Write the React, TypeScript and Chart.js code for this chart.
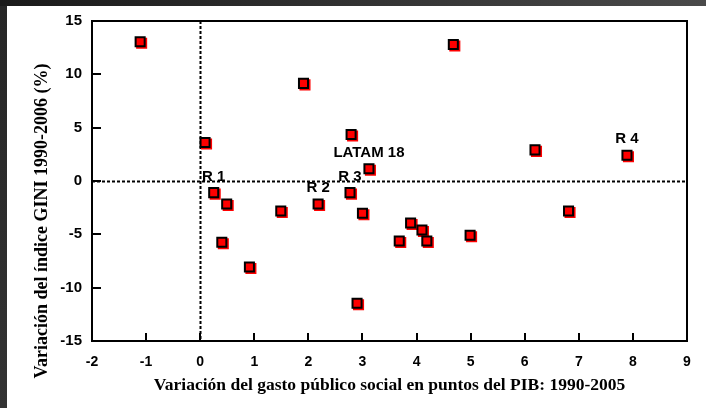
import React, { useEffect, useRef } from "react";
import { Chart, registerables } from "chart.js";

Chart.register(...registerables);

// Variación del gasto público social (puntos del PIB, 1990-2005)
const gastoSocial = [
  -1.11, 4.68, 1.91, 0.09, 2.79, 3.12, 6.19, 7.89, 0.25, 0.49, 1.49, 2.18,
  2.77, 3.0, 0.4, 0.91, 2.9, 3.68, 3.89, 4.1, 4.19, 4.99, 6.81,
];
// Variación del índice GINI 1990-2006 (%)
const giniVar = [
  13.05, 12.79, 9.15, 3.61, 4.36, 1.14, 2.92, 2.42, -1.09, -2.15, -2.81, -2.15,
  -1.09, -3.03, -5.75, -8.07, -11.46, -5.63, -3.94, -4.6, -5.63, -5.09, -2.81,
];
const pointLabels = [
  "", "", "", "", "", "LATAM 18", "", "R 4", "R 1", "", "", "R 2",
  "R 3", "", "", "", "", "", "", "", "", "", "",
];

const xTitle = "Variación del gasto público social en puntos del PIB: 1990-2005";
const yTitle = "Variación del índice GINI 1990-2006 (%)";

const SANS = "'Liberation Sans', Arial, sans-serif";
const SERIF = "'Liberation Serif', 'Times New Roman', serif";

const decorPlugin = {
  id: "decor",
  afterDraw(chart: any) {
    const { ctx, chartArea, scales } = chart;
    const xs = scales.x;
    const ys = scales.y;
    ctx.save();
    ctx.strokeStyle = "#000";
    ctx.lineWidth = 2;
    ctx.setLineDash([]);
    ctx.beginPath();
    xs.ticks.forEach((t: any) => {
      const px = Math.round(xs.getPixelForValue(t.value));
      ctx.moveTo(px, chartArea.bottom);
      ctx.lineTo(px, chartArea.bottom - 8);
    });
    ys.ticks.forEach((t: any) => {
      const py = Math.round(ys.getPixelForValue(t.value));
      ctx.moveTo(chartArea.left, py);
      ctx.lineTo(chartArea.left + 9, py);
    });
    ctx.stroke();
    ctx.restore();
  },
  beforeDatasetsDraw(chart: any) {
    const { ctx, chartArea, scales } = chart;
    const xs = scales.x;
    const ys = scales.y;
    ctx.save();
    ctx.strokeStyle = "#000";
    ctx.lineWidth = 2;
    ctx.setLineDash([3, 2]);
    const x0 = Math.round(xs.getPixelForValue(0)) + 0.5;
    const y0 = Math.round(ys.getPixelForValue(0)) + 0.5;
    ctx.beginPath();
    ctx.moveTo(x0, chartArea.top);
    ctx.lineTo(x0, chartArea.bottom);
    ctx.moveTo(chartArea.left, y0);
    ctx.lineTo(chartArea.right, y0);
    ctx.stroke();
    ctx.setLineDash([]);
    ctx.strokeStyle = "#000";
    ctx.lineWidth = 2;
    ctx.strokeRect(
      chartArea.left,
      chartArea.top,
      chartArea.right - chartArea.left,
      chartArea.bottom - chartArea.top
    );
    ctx.restore();

    ctx.save();
    ctx.fillStyle = "#000";
    ctx.font = `bold 17.5px ${SERIF}`;
    ctx.textAlign = "center";
    ctx.textBaseline = "middle";
    ctx.fillText(xTitle, (chartArea.left + chartArea.right) / 2, 385);
    ctx.translate(42, 221);
    ctx.rotate(-Math.PI / 2);
    ctx.font = `bold 18px ${SERIF}`;
    ctx.fillText(yTitle, 0, 0);
    ctx.restore();

    ctx.save();
    ctx.shadowColor = "#ff0000";
    ctx.shadowOffsetX = 1.5;
    ctx.shadowOffsetY = 1.5;
    ctx.shadowBlur = 0;
  },
  afterDatasetsDraw(chart: any) {
    const { ctx } = chart;
    ctx.restore();
    const meta = chart.getDatasetMeta(0);
    ctx.save();
    ctx.fillStyle = "#000";
    ctx.font = `bold 15px ${SANS}`;
    ctx.textAlign = "center";
    ctx.textBaseline = "middle";
    meta.data.forEach((pt: any, i: number) => {
      const lbl = pointLabels[i];
      if (lbl) ctx.fillText(lbl, pt.x, pt.y - 16);
    });
    ctx.restore();
  },
};

export default function App() {
  const ref = useRef<HTMLCanvasElement | null>(null);
  useEffect(() => {
    if (!ref.current) return;
    const chart = new Chart(ref.current, {
      type: "scatter",
      data: {
        datasets: [
          {
            data: gastoSocial.map((x, i) => ({ x, y: giniVar[i] })),
            pointStyle: "rect",
            pointRadius: 6.4,
            pointHoverRadius: 6.4,
            backgroundColor: "#ff0000",
            borderColor: "#000",
            borderWidth: 2,
          },
        ],
      },
      options: {
        responsive: false,
        animation: false,
        events: [],
        layout: { padding: { left: 0, top: 21, right: 19, bottom: 0 } },
        plugins: {
          legend: { display: false },
          tooltip: { enabled: false },
        },
        scales: {
          x: {
            type: "linear",
            min: -2,
            max: 9,
            afterFit: (s: any) => {
              s.height = 67;
            },
            grid: { display: false, drawTicks: false },
            border: { display: false },
            ticks: {
              stepSize: 1,
              padding: 13,
              color: "#000",
              font: { family: SANS, size: 14, weight: "bold" },
            },
          },
          y: {
            type: "linear",
            min: -15,
            max: 15,
            afterFit: (s: any) => {
              s.width = 92;
            },
            grid: { display: false, drawTicks: false },
            border: { display: false },
            ticks: {
              stepSize: 5,
              padding: 10,
              color: "#000",
              font: { family: SANS, size: 15, weight: "bold" },
            },
          },
        },
      },
      plugins: [decorPlugin],
    } as any);
    return () => chart.destroy();
  }, []);

  return (
    <div
      style={{
        position: "fixed",
        left: 0,
        top: 0,
        width: 706,
        height: 408,
        background: "linear-gradient(to right, #1a1a1a, #4a4a4a)",
        overflow: "hidden",
      }}
    >
      <div
        style={{
          position: "absolute",
          left: 0,
          top: 6,
          width: 7,
          height: 402,
          background: "linear-gradient(to bottom, #262626, #333333)",
        }}
      />
      <div
        style={{
          position: "absolute",
          left: 7,
          top: 6,
          right: 0,
          bottom: 0,
          background: "#ffffff",
        }}
      />
      <canvas
        ref={ref}
        width={706}
        height={408}
        style={{ position: "absolute", left: 0, top: 0, width: 706, height: 408 }}
      />
    </div>
  );
}
